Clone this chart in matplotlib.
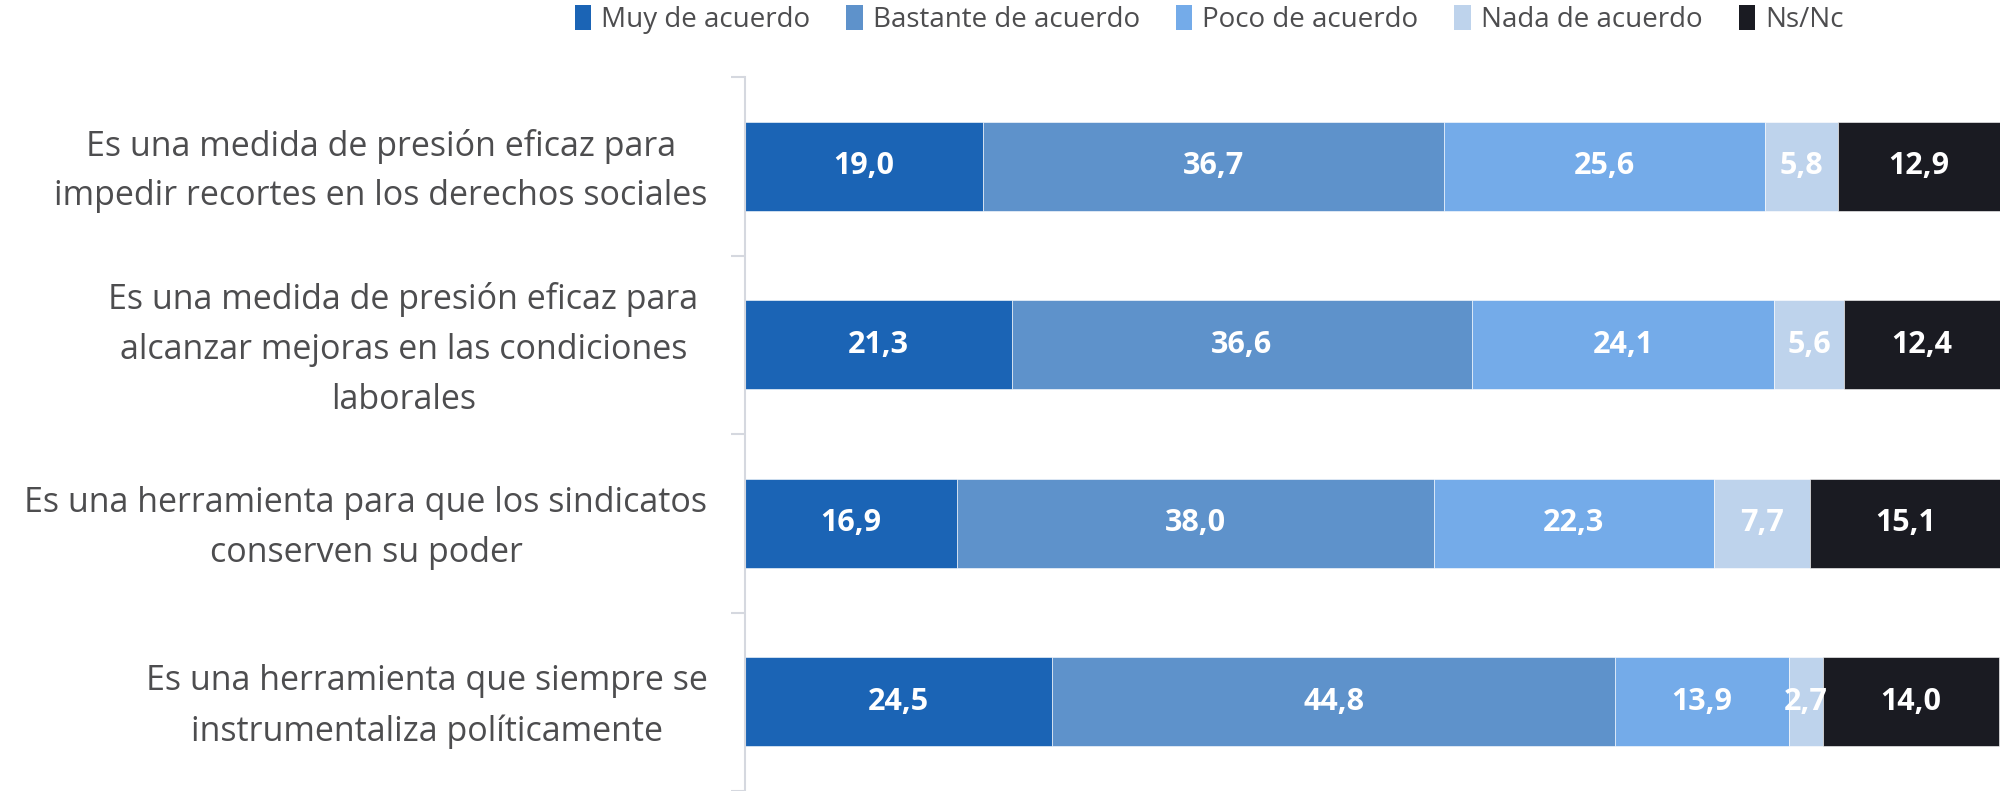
import matplotlib
matplotlib.use("Agg")
import matplotlib.pyplot as plt
import matplotlib.transforms as mtransforms
from matplotlib.patches import Patch
import numpy as np

plt.rcParams["font.family"] = ["Open Sans", "DejaVu Sans"]

# Data
categories = [
    "Es una medida de presión eficaz para\nimpedir recortes en los derechos sociales",
    "Es una medida de presión eficaz para\nalcanzar mejoras en las condiciones\nlaborales",
    "Es una herramienta para que los sindicatos\nconserven su poder",
    "Es una herramienta que siempre se\ninstrumentaliza políticamente",
]
series_names = ["Muy de acuerdo", "Bastante de acuerdo", "Poco de acuerdo",
                "Nada de acuerdo", "Ns/Nc"]
muy = [19.0, 21.3, 16.9, 24.5]
bastante = [36.7, 36.6, 38.0, 44.8]
poco = [25.6, 24.1, 22.3, 13.9]
nada = [5.8, 5.6, 7.7, 2.7]
nsnc = [12.9, 12.4, 15.1, 14.0]
colors = ["#1b64b5", "#5e92cb", "#74abe9", "#bed3ec", "#1a1b22"]

values = [muy, bastante, poco, nada, nsnc]
text_gray = "#4d4d4f"

fig = plt.figure(figsize=(20, 7.91), dpi=100)
ax = fig.add_axes([745 / 2000, 0, 1255 / 2000, 714 / 791])

y = np.arange(len(categories))
left = np.zeros(len(categories))
for name, vals, col in zip(series_names, values, colors):
    vals = np.array(vals)
    ax.barh(y, vals, left=left, height=0.5, color=col, edgecolor="white",
            linewidth=0.4, label=name)
    for yi, (l, v) in enumerate(zip(left, vals)):
        ax.text(l + v / 2, yi, f"{v:.1f}".replace(".", ","), ha="center",
                va="center", color="white", fontsize=22, fontweight="bold")
    left += vals

ax.set_xlim(0, 100)
ax.set_ylim(3.5, -0.5)
ax.xaxis.set_visible(False)
for s in ["top", "right", "bottom"]:
    ax.spines[s].set_visible(False)
ax.spines["left"].set_color("#d5d8df")
ax.spines["left"].set_linewidth(1.5)

ax.set_yticks(y)
ax.set_yticklabels(categories, fontsize=24.5, color=text_gray,
                   multialignment="center", linespacing=1.6)
ax.tick_params(axis="y", which="major", length=0, pad=27)
ax.set_yticks(np.arange(-0.5, 4.0, 1.0), minor=True)
ax.tick_params(axis="y", which="minor", length=10, color="#d5d8df", width=1.5)

# nudge labels up a little (second one also slightly left, as in the original)
for i, lab in enumerate(ax.get_yticklabels()):
    dx = -9 / 100 if i == 1 else 0
    off = mtransforms.ScaledTranslation(dx, 7 / 100, fig.dpi_scale_trans)
    lab.set_transform(lab.get_transform() + off)

handles = [Patch(facecolor=c, edgecolor="none") for c in colors]
fig.legend(handles, series_names, loc="center", bbox_to_anchor=(0.6045, 0.975),
           ncol=5, frameon=False, fontsize=20, labelcolor=text_gray,
           handlelength=0.6, handleheight=1.0, handletextpad=0.35,
           columnspacing=1.3)

fig.savefig("out.png", dpi=100)
